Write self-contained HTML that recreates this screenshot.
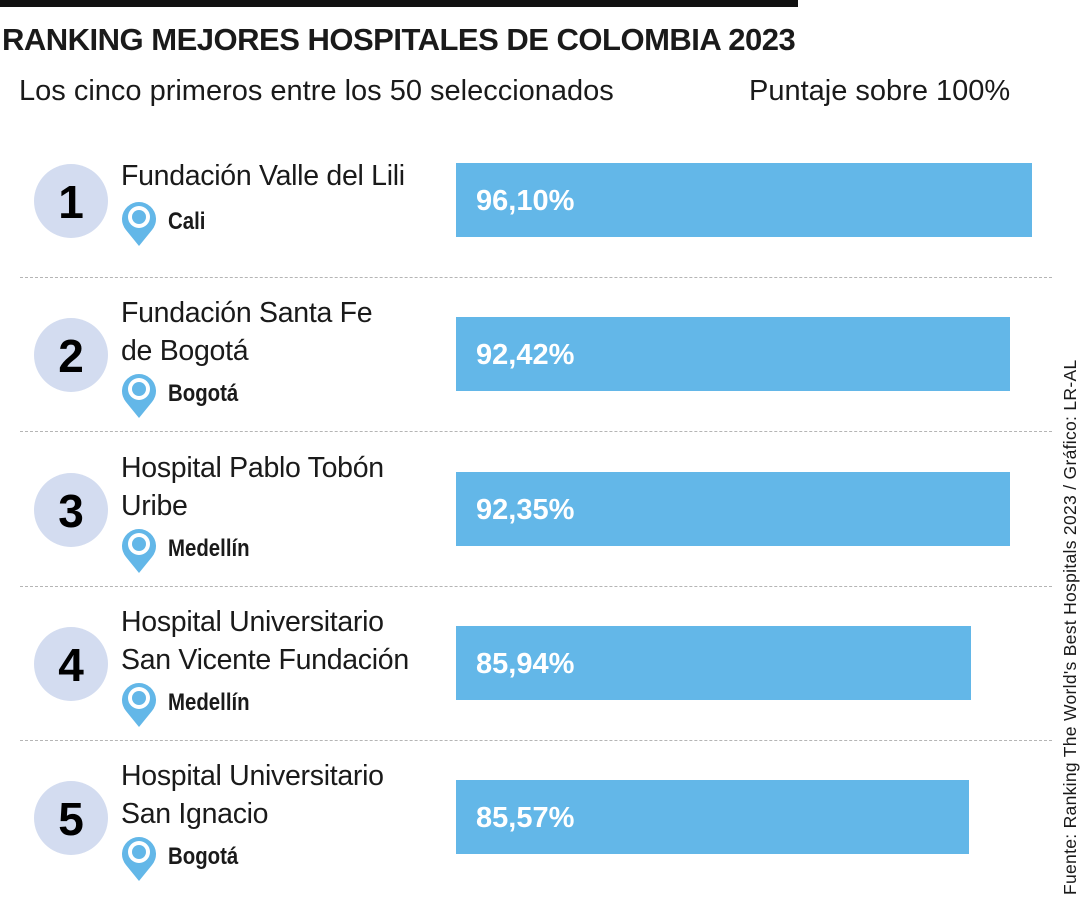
<!DOCTYPE html>
<html><head><meta charset="utf-8"><style>
body{margin:0;width:1080px;height:900px;background:#fff;position:relative;overflow:hidden;font-family:"Liberation Sans",sans-serif;color:#1a1a1a}
.a{position:absolute;white-space:nowrap}
.name{font-size:28.5px;font-weight:300;line-height:38px;left:121px;letter-spacing:-0.3px}
.circ{position:absolute;left:34px;width:74px;height:74px;border-radius:50%;background:#d3dcf0;font-weight:bold;font-size:46px;text-align:center;line-height:76px;color:#000}
.city{font-size:24px;font-weight:bold;left:168px;transform:scaleX(0.85);transform-origin:left}
.bar{position:absolute;background:#63b7e8}
.val{position:absolute;color:#fff;font-weight:bold;font-size:29px;line-height:76px;left:476px}
.dash{position:absolute;left:20px;width:1032px;border-top:1.5px dashed #b5b5b5}
</style></head><body>
<div class="a" style="left:0;top:0;width:798px;height:7px;background:#111"></div>
<div class="a" style="left:2px;top:22px;font-size:31px;font-weight:bold;letter-spacing:-0.5px">RANKING MEJORES HOSPITALES DE COLOMBIA 2023</div>
<div class="a" style="left:19px;top:75px;font-size:29px">Los cinco primeros entre los 50 seleccionados</div>
<div class="a" style="left:749px;top:75px;font-size:29px">Puntaje sobre 100%</div>
<div class="a" style="left:1060px;top:895px;font-size:17.5px;letter-spacing:0.3px;transform:rotate(-90deg);transform-origin:left top;font-weight:300;line-height:20px">Fuente: Ranking The World's Best Hospitals 2023 / Gráfico: LR-AL</div>
<div id="rows"></div>
<script>
const ranks=["1","2","3","4","5"];
const names=[["Fundación Valle del Lili"],["Fundación Santa Fe","de Bogotá"],["Hospital Pablo Tobón","Uribe"],["Hospital Universitario","San Vicente Fundación"],["Hospital Universitario","San Ignacio"]];
const cities=["Cali","Bogotá","Medellín","Medellín","Bogotá"];
const values=[96.10,92.42,92.35,85.94,85.57];
const x0=456, scale=5.994, rowH=154.3, top0=163;
const root=document.getElementById('rows');
function add(cls,style,html){const d=document.createElement('div');d.className=cls;d.setAttribute('style',style);if(html!==undefined)d.innerHTML=html;root.appendChild(d);return d;}
values.forEach((v,i)=>{
 const y=top0+i*rowH;
 const two=names[i].length>1;
 const c=add('circ','top:'+(y+1)+'px',ranks[i]);
 
 
 const n=add('a name','top:'+(two?y-23:y-6)+'px',names[i].join('<br>'));
 
 
 const pinTop=two?y+55:y+37;
 const p=add('a','left:121px;top:'+pinTop+'px;width:36px;height:46px','<svg width="36" height="46" viewBox="0 0 36 46"><path d="M18 46 L5 30 A17 17 0 1 1 31 30 Z" fill="#63b7e8"/><circle cx="18" cy="17" r="11" fill="#fff"/><circle cx="18" cy="17" r="7" fill="#63b7e8"/></svg>');
 
 
 const ct=add('a city','top:'+(pinTop+8)+'px',cities[i]);
 
 
 const b=add('bar','left:'+x0+'px;top:'+y+'px;height:74px;width:'+(v*scale)+'px');
 
 
 const t=add('val','top:'+y+'px',v.toFixed(2).replace('.',',')+'%');
 
 
 if(i<values.length-1){const d=add('dash','top:'+(y+114)+'px');
 
 }
});
</script>
</body></html>
